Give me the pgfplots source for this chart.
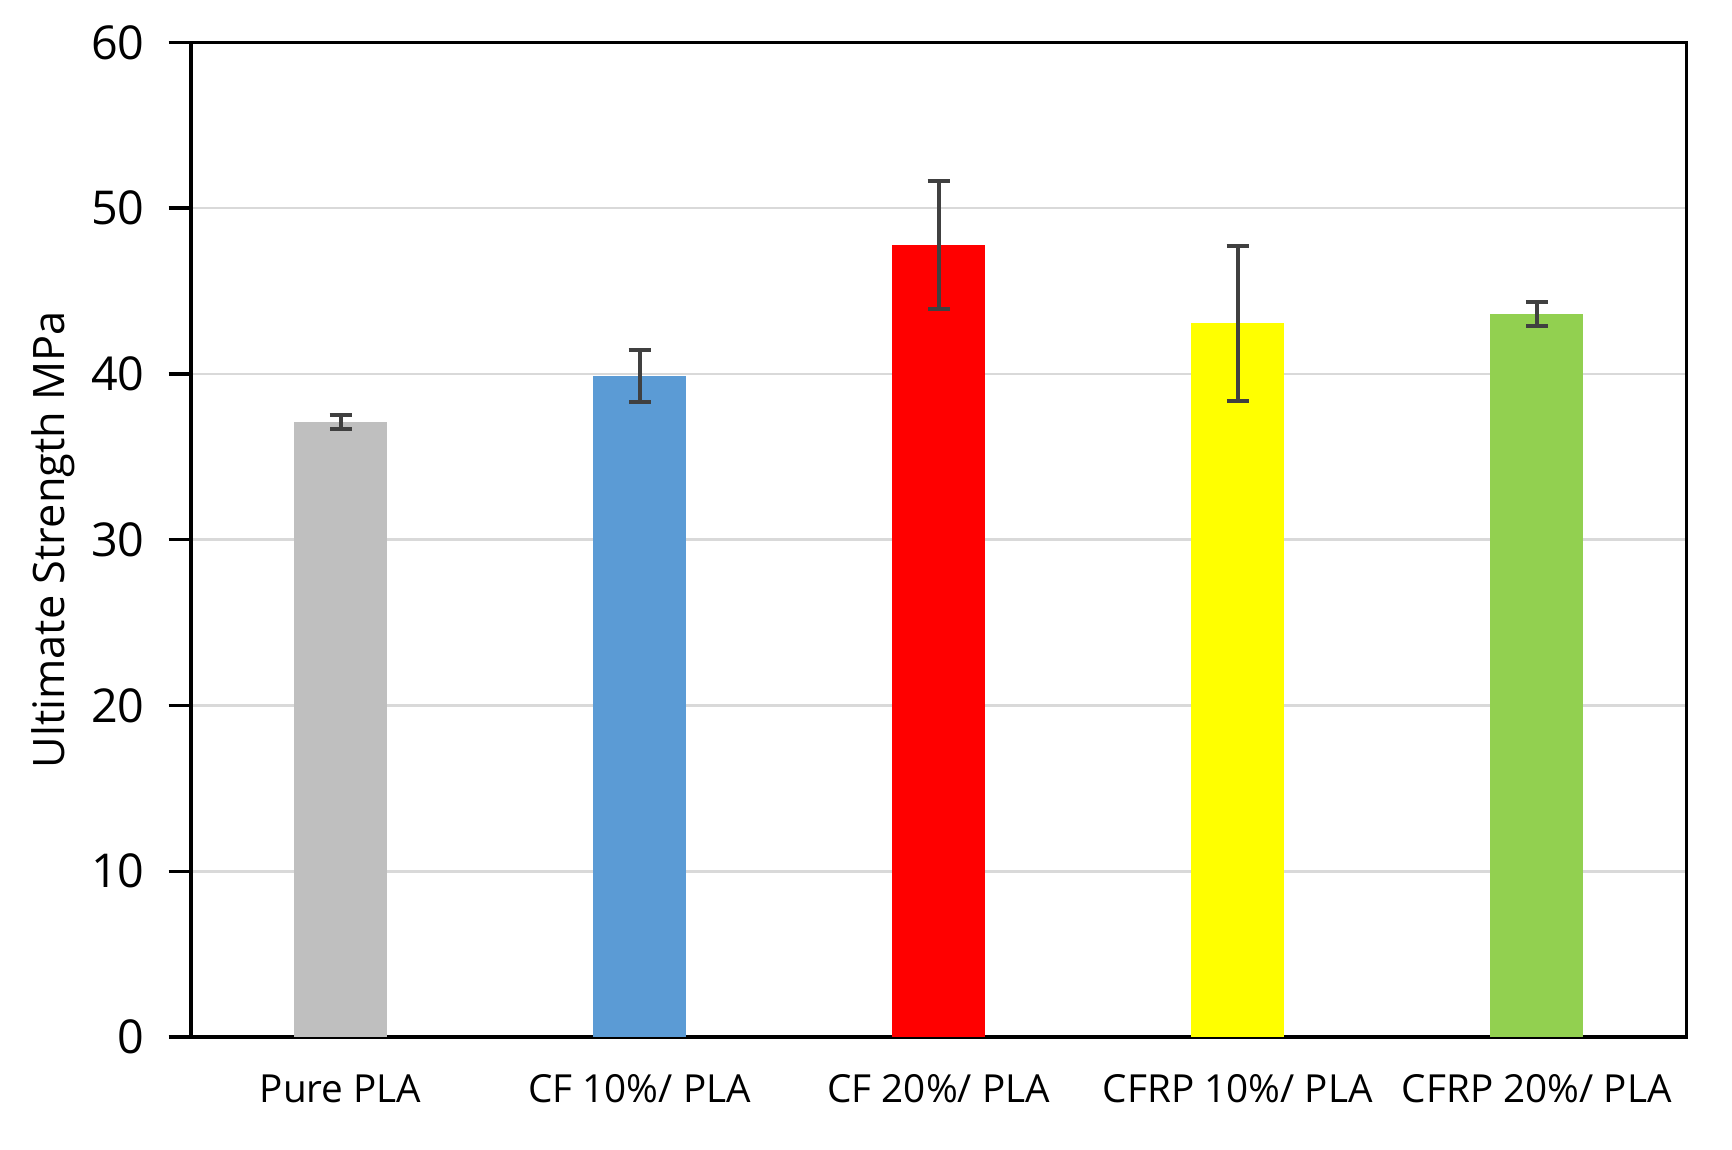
\documentclass[border=0pt]{standalone}
\usepackage{pgfplots}
\pgfplotsset{compat=1.18}
\usepackage{fontspec}
\setmainfont{Open Sans}
\definecolor{cgray}{HTML}{BFBFBF}
\definecolor{cblue}{HTML}{5B9BD5}
\definecolor{cred}{HTML}{FF0000}
\definecolor{cyellow}{HTML}{FFFF00}
\definecolor{cgreen}{HTML}{92D050}
\definecolor{cerr}{HTML}{404040}
\definecolor{cgrid}{HTML}{D9D9D9}
\begin{document}
\begin{tikzpicture}
\useasboundingbox (0,0) rectangle (519.6pt,345pt);
\begin{axis}[
  at={(57.3pt,33.9pt)}, anchor=south west,
  scale only axis=true,
  width=448.6pt, height=298.4pt,
  xmin=-0.5, xmax=4.5, ymin=0, ymax=60,
  ytick={0,10,...,60},
  xtick={0,1,2,3,4},
  xticklabels={Pure PLA, CF 10\%/ PLA, CF 20\%/ PLA, CFRP 10\%/ PLA, CFRP 20\%/ PLA},
  x tick style={draw=none},
  ytick pos=left,
  y tick style={black, line width=1pt},
  tick align=outside,
  major tick length=6.7pt,
  ymajorgrids=true,
  y grid style={cgrid, line width=0.8pt},
  axis line style={black, line width=1pt},
  /pgf/number format/assume math mode=true,
  yticklabel style={font=\fontsize{14}{16}\selectfont, xshift=-3.7pt},
  xticklabel style={font=\fontsize{11.6}{14}\selectfont, yshift=-1pt},
  ylabel={Ultimate Strength MPa},
  every axis y label/.style={at={(axis description cs:-0.092,0.5)}, rotate=90, anchor=center},
  ylabel style={font=\fontsize{13}{15}\selectfont},
  bar width=0.31,
  error bars/error bar style={cerr, line width=1.2pt},
  error bars/error mark options={rotate=90, mark size=3.3pt, line width=1.2pt, cerr},
]
\addplot[ybar, fill=cgray, draw=none, error bars/.cd, y dir=both, y explicit]
  coordinates {(0,37.1) +- (0,0.4)};
\addplot[ybar, fill=cblue, draw=none, error bars/.cd, y dir=both, y explicit]
  coordinates {(1,39.88) +- (0,1.56)};
\addplot[ybar, fill=cred, draw=none, error bars/.cd, y dir=both, y explicit]
  coordinates {(2,47.77) +- (0,3.88)};
\addplot[ybar, fill=cyellow, draw=none, error bars/.cd, y dir=both, y explicit]
  coordinates {(3,43.05) +- (0,4.66)};
\addplot[ybar, fill=cgreen, draw=none, error bars/.cd, y dir=both, y explicit]
  coordinates {(4,43.6) +- (0,0.72)};
\end{axis}
\end{tikzpicture}
\end{document}
